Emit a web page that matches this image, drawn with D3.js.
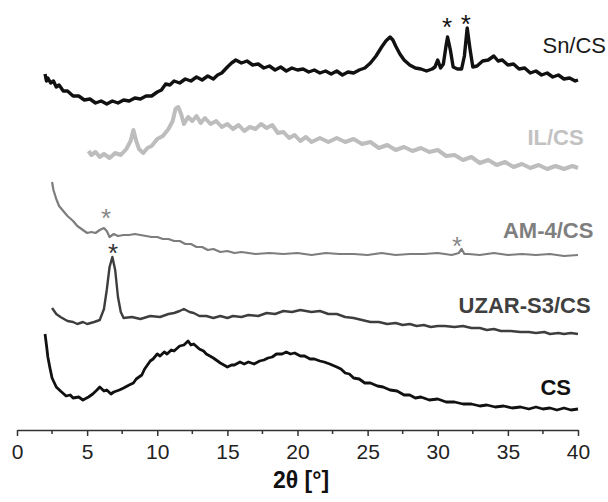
<!DOCTYPE html>
<html>
<head>
<meta charset="utf-8">
<script src="https://cdn.jsdelivr.net/npm/d3@7"></script>
<style>
  body { margin: 0; background: #fff; }
  text { font-family: "Liberation Sans", Arial, sans-serif; }
</style>
</head>
<body>
<div id="chart"></div>
<script>
// 2theta (deg) vs stacked intensity (a.u., offset)
const snCS = [[2.0,356],[2.1,349],[2.2,352],[2.4,347],[2.6,349],[2.8,343],[3.0,345],[3.3,339],[3.6,339],[4.0,334],[4.4,334],[4.8,330],[5.2,331],[5.6,327],[6.0,329],[6.4,326],[6.8,329],[7.2,327],[7.6,330],[8.0,329],[8.4,332],[8.8,331],[9.2,334],[9.6,334],[10.0,338],[10.3,340],[10.6,346],[10.9,345],[11.2,349],[11.6,347],[12.0,351],[12.4,349],[12.8,353],[13.2,350],[13.6,354],[14.0,351],[14.3,355],[14.6,357],[15.0,363],[15.3,367],[15.6,370],[16.0,367],[16.4,369],[16.8,365],[17.2,366],[17.6,362],[18.0,364],[18.4,360],[18.8,363],[19.2,359],[19.6,362],[20.0,360],[20.4,361],[20.8,358],[21.2,360],[21.6,357],[22.0,359],[22.4,356],[22.8,359],[23.2,355],[23.6,358],[24.0,357],[24.4,360],[24.8,362],[25.2,367],[25.6,374],[26.0,383],[26.3,389],[26.6,393],[26.8,390],[27.0,384],[27.3,376],[27.6,370],[28.0,365],[28.4,362],[28.8,361],[29.2,359],[29.6,361],[29.8,363],[30.0,370],[30.2,362],[30.4,366],[30.6,385],[30.7,393],[30.9,380],[31.1,363],[31.4,361],[31.7,361],[31.9,374],[32.1,402],[32.3,381],[32.5,363],[32.8,364],[33.2,369],[33.6,370],[34.0,374],[34.3,369],[34.6,370],[35.0,365],[35.4,366],[35.8,361],[36.2,362],[36.6,357],[37.0,359],[37.4,355],[37.8,357],[38.2,353],[38.6,355],[39.0,351],[39.4,352],[39.8,349],[40.0,350]];

const ilCS = [[5.1,279],[5.3,275],[5.6,278],[5.9,273],[6.2,276],[6.6,272],[7.0,277],[7.4,275],[7.8,281],[8.1,289],[8.3,300],[8.5,289],[8.7,281],[9.0,277],[9.3,282],[9.6,284],[10.0,291],[10.4,294],[10.8,301],[11.1,309],[11.3,321],[11.5,323],[11.7,316],[11.9,306],[12.2,313],[12.5,309],[12.8,314],[13.1,307],[13.4,312],[13.8,306],[14.2,309],[14.6,303],[15.0,306],[15.4,301],[15.8,305],[16.2,299],[16.6,303],[17.0,301],[17.4,306],[17.8,302],[18.2,305],[18.6,297],[19.0,298],[19.4,292],[19.8,295],[20.2,289],[20.6,293],[21.0,288],[21.6,292],[22.2,288],[22.8,292],[23.4,288],[24.0,291],[24.6,286],[25.2,288],[25.8,282],[26.4,285],[27.0,280],[27.6,283],[28.2,279],[28.8,282],[29.4,278],[30.0,280],[30.6,274],[31.2,275],[31.8,270],[32.4,273],[33.0,267],[33.6,270],[34.2,265],[34.8,268],[35.4,263],[36.0,266],[36.6,262],[37.2,265],[37.8,261],[38.4,264],[39.0,261],[39.6,264],[40.0,262]];

const am4CS = [[2.5,248],[2.6,240],[2.8,231],[3.0,224],[3.3,219],[3.6,214],[4.0,209],[4.3,204],[4.7,200],[5.0,197],[5.3,198],[5.6,197],[5.9,200],[6.2,202],[6.4,199],[6.6,193],[6.9,196],[7.2,194],[7.6,195],[8.0,195],[8.4,196],[8.8,195],[9.2,194],[9.6,193],[10.0,193],[10.4,191],[10.8,191],[11.2,189],[11.6,189],[12.0,186],[12.4,186],[12.8,183],[13.2,183],[13.6,180],[14.0,181],[14.5,178],[15.0,179],[15.5,177],[16.0,178],[17.0,176],[18.0,177],[19.0,176],[20.0,177],[21.0,175],[22.0,177],[23.0,176],[24.0,176],[25.0,175],[26.0,177],[27.0,175],[28.0,176],[29.0,176],[30.0,177],[31.0,175],[31.5,177],[31.7,181],[31.9,176],[32.2,176],[33.0,175],[34.0,177],[35.0,175],[36.0,176],[37.0,175],[38.0,176],[39.0,174],[40.0,175]];

const uzarCS = [[2.5,122],[2.8,116],[3.1,113],[3.6,109],[4.0,108],[4.3,106],[4.7,108],[5.0,106],[5.5,108],[5.9,110],[6.2,121],[6.4,140],[6.6,163],[6.8,173],[7.0,160],[7.2,133],[7.4,118],[7.6,112],[8.2,113],[8.8,111],[9.5,114],[10.2,113],[10.8,116],[11.2,117],[11.6,119],[11.9,121],[12.3,118],[12.6,117],[13.0,114],[13.5,114],[14.0,112],[14.5,114],[15.0,112],[15.4,114],[16.0,113],[16.5,115],[17.2,114],[17.8,117],[18.4,116],[19.0,119],[19.6,118],[20.2,120],[21.0,118],[21.6,119],[22.2,116],[22.8,116],[23.4,113],[24.0,112],[24.6,110],[25.2,108],[25.8,108],[26.4,106],[27.0,107],[27.5,105],[28.0,106],[28.5,104],[29.0,105],[29.5,103],[30.0,104],[30.5,104],[31.2,103],[31.8,104],[32.4,102],[33.0,102],[33.5,100],[34.0,101],[34.5,99],[35.2,99],[35.9,98],[36.5,98],[37.0,97],[37.6,98],[38.0,96],[38.6,97],[39.0,96],[39.5,97],[40.0,96]];

const cs = [[2.0,96],[2.1,85],[2.2,73],[2.35,62],[2.5,52],[2.8,43],[3.1,39],[3.5,34],[3.8,35],[4.0,32],[4.4,33],[4.7,30],[5.1,33],[5.4,36],[5.7,40],[5.9,43],[6.2,39],[6.4,40],[6.7,36],[6.9,38],[7.3,40],[7.6,42],[8.0,45],[8.3,47],[8.5,51],[8.9,55],[9.1,61],[9.3,65],[9.5,69],[9.7,71],[10.0,76],[10.2,74],[10.5,78],[10.7,76],[11.0,80],[11.2,79],[11.6,84],[11.9,85],[12.2,89],[12.4,85],[12.6,86],[13.0,81],[13.3,79],[13.5,76],[14.0,72],[14.3,69],[14.5,67],[15.0,63],[15.3,65],[15.5,65],[15.9,68],[16.2,66],[16.5,68],[16.9,66],[17.3,69],[17.6,70],[17.9,72],[18.2,73],[18.5,76],[18.9,76],[19.2,78],[19.5,76],[19.8,77],[20.2,74],[20.5,74],[20.9,71],[21.2,71],[21.6,69],[21.9,68],[22.3,66],[22.8,63],[23.1,61],[23.4,57],[23.7,56],[24.0,52],[24.4,51],[24.8,47],[25.2,47],[25.7,44],[26.1,43],[26.6,40],[27.1,39],[27.6,35],[28.0,35],[28.4,32],[28.8,33],[29.4,30],[30.0,31],[30.6,28],[31.2,28],[31.8,26],[32.4,26],[33.0,24],[33.5,25],[34.1,23],[34.7,24],[35.3,22],[35.9,23],[36.5,21],[37.0,23],[37.5,21],[38.0,22],[38.5,20],[39.0,22],[39.5,20],[40.0,21]];

const seriesNames = ["Sn/CS", "IL/CS", "AM-4/CS", "UZAR-S3/CS", "CS"];
const seriesData = [snCS, ilCS, am4CS, uzarCS, cs];
const seriesColors = ["#111111", "#bdbdbd", "#7d7d7d", "#3e3e3e", "#111111"];
const labelColors = ["#1a1a1a", "#c2c2c2", "#7f7f7f", "#404040", "#111111"];
const labelWeights = ["normal", "bold", "bold", "bold", "bold"];
const labelPos = [[42.0, 377], [40.4, 285], [41.1, 192], [40.9, 117], [39.5, 35]]; // [2theta of right edge, intensity of baseline]
const lineWidths = [3.4, 4, 2.2, 2.4, 2.8];

// peak markers: [2theta, intensity, colour]
const stars = [[30.66, 408, "#111"], [32.0, 411, "#111"], [6.35, 217, "#888"], [31.37, 189, "#888"], [6.85, 182, "#333"]];

const majorTicks = [0, 5, 10, 15, 20, 25, 30, 35, 40];
const minorTicks = [2.5, 7.5, 12.5, 17.5, 22.5, 27.5, 32.5, 37.5];

const W = 608, H = 502;
const x = d3.scaleLinear().domain([0, 40]).range([17, 578]);
const y = d3.scaleLinear().domain([0, 430]).range([430, 0]);

const svg = d3.select("#chart").append("svg")
    .attr("width", W)
    .attr("height", H);

const line = d3.line()
    .x(d => x(d[0]))
    .y(d => y(d[1]));

svg.append("g")
    .selectAll("path")
    .data(seriesData)
    .join("path")
    .attr("d", line)
    .attr("fill", "none")
    .attr("stroke", (d, i) => seriesColors[i])
    .attr("stroke-width", (d, i) => lineWidths[i])
    .attr("stroke-linejoin", "round");

svg.append("g")
    .selectAll("text")
    .data(seriesNames)
    .join("text")
    .attr("x", (d, i) => x(labelPos[i][0]))
    .attr("y", (d, i) => y(labelPos[i][1]))
    .attr("text-anchor", "end")
    .attr("font-size", 22)
    .attr("font-weight", (d, i) => labelWeights[i])
    .attr("fill", (d, i) => labelColors[i])
    .text(d => d);

svg.append("g")
    .selectAll("text")
    .data(stars)
    .join("text")
    .attr("x", d => x(d[0]))
    .attr("y", d => y(d[1]) + 14)
    .attr("text-anchor", "middle")
    .attr("font-size", 26)
    .attr("fill", d => d[2])
    .text("*");

// x axis
const axis = svg.append("g")
    .attr("transform", "translate(0," + 430 + ")")
    .call(d3.axisBottom(x).tickValues(majorTicks).tickSize(6).tickSizeOuter(0).tickPadding(8));
axis.select(".domain").attr("stroke", "#333").attr("stroke-width", 1.5);
axis.selectAll(".tick line").attr("stroke", "#333").attr("stroke-width", 1.5);
axis.selectAll(".tick text")
    .attr("font-size", 21)
    .attr("fill", "#222")
    .style("font-family", "'Liberation Sans', Arial, sans-serif");

svg.append("g")
    .selectAll("line")
    .data(minorTicks)
    .join("line")
    .attr("x1", d => x(d))
    .attr("x2", d => x(d))
    .attr("y1", 430)
    .attr("y2", 434)
    .attr("stroke", "#333")
    .attr("stroke-width", 1.5);

svg.append("text")
    .attr("x", 301)
    .attr("y", 488)
    .attr("text-anchor", "middle")
    .attr("font-size", 23)
    .attr("font-weight", "bold")
    .attr("fill", "#111")
    .text("2θ [°]");
</script>
</body>
</html>
